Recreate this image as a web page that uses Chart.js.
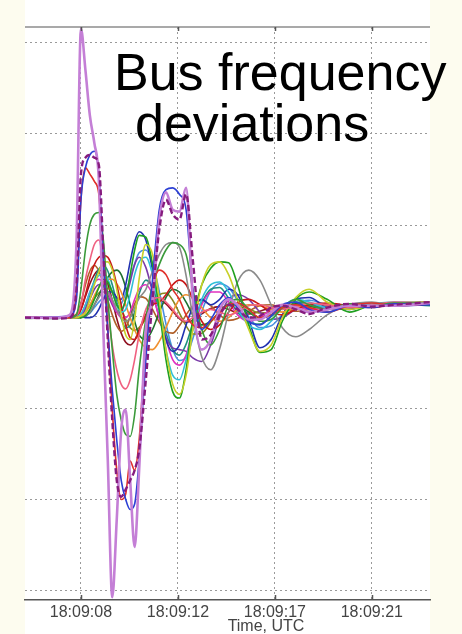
<!DOCTYPE html>
<html>
<head>
<meta charset="utf-8">
<script src="https://cdn.jsdelivr.net/npm/chart.js@4/dist/chart.umd.min.js"></script>
<style>
    html, body { margin: 0; padding: 0; background: #fdfcef; }
    #wrap { position: relative; width: 462px; height: 634px; }
</style>
</head>
<body>
<div id="wrap"><canvas id="freqChart" width="462" height="634"></canvas></div>
<script>
// Time in seconds after 18:09:00 (UTC)
const times = [5.5, 7.0, 7.5, 7.8, 8.0, 8.2, 8.4, 8.6, 8.8, 9.0, 9.2, 9.4, 9.6, 9.8, 10.0, 10.2, 10.4, 10.6, 10.9, 11.2, 11.5,
    11.8, 12.1, 12.4, 12.7, 13.0, 13.4, 13.8, 14.2, 14.6, 15.0, 15.5, 16.0, 16.5, 17.0, 17.6, 18.2, 19.0, 20.0, 21.0, 22.0, 23.6];

const tickTimes = [8, 12.333, 16.667, 21];
const tickLabels = ['18:09:08', '18:09:12', '18:09:17', '18:09:21'];
const yGridValues = [-30, -20, -10, 0, 10, 20, 30];

// Bus frequency deviations (mHz, estimated)
const busViolet = [-0.1, -0.1, 0.2, 8, 31.5, 27, 22, 19, 15, -1.4, -15.7, -30.7, -22.2, -12.4, -10.2, -17.9, -25.2, -16.8, -1.4, 1.9, 10.6,
    13.6, 11.7, 11.5, 14.1, 1.9, -3.6, -2.5, 0.8, 1.9, 1.3, -0.3, -0.3, 0.5, 1.3, 1, 0.5, 0.8, 1.2, 1.2, 1.2, 1.5];
const busPlum = [-0.1, -0.2, -0.1, 3, 15.6, 17.4, 17.7, 17.4, 16.6, 7.3, -2.5, -11.3, -17.9, -19.7, -18.9, -17.9, -16.8, -14.6, -6.9, 1.9, 9.5,
    12.8, 11.2, 10.6, 13.4, 6.2, -2.5, -2, 0.2, 1.3, 0.8, -0.1, 0.1, 1, 1.2, 0.8, 0.3, 1, 1.4, 1.1, 1.3, 1.6];
const busBlue = [-0.1, 0, 0.1, 1.9, 12.8, 16.3, 17.7, 18.1, 15.6, 6.2, -1.4, -8, -13.5, -17.9, -20, -21.1, -20.5, -15.7, -4.7, 4.1, 11.7,
    13.9, 14.1, 13.4, 11.7, 3, -1.4, -0.3, 1.3, 2.1, 1, -0.5, -0.9, 0.1, 1.3, 1.6, 0.8, 0.5, 1.2, 1, 1.4, 1.3];
const busRed = [0, -0.1, -0.1, 3, 12.8, 16.3, 15.6, 14.8, 13.4, 6.2, -1.4, -10.2, -16.8, -20, -19.4, -15.8, -16.8, -13.5, -2.5, 3, 5.1,
    4.6, 3, 1.9, 0.2, -0.9, -1.2, -0.5, 0.5, 1.3, 1.5, 0.8, -0.1, 0.2, 1, 1.3, 1, 0.5, 1.2, 1.5, 1.2, 1.4];
const busGreen = [-0.2, -0.1, -0.1, 0.2, 3, 7.3, 10.1, 11.2, 11.4, 8.4, 1.9, -3.6, -8.5, -11.3, -12.9, -13.1, -10.7, -5.8, -0.3, 3.5, 5.7,
    7.3, 8.1, 7.9, 6.8, 3, -1.4, -3.1, -1.4, 1.3, 1.9, 0.8, -0.5, -0.3, 1, 1.9, 1.3, 0.8, 1.4, 1.2, 1.5, 1.5];
const busPink = [-0.1, 0, -0.1, 0.1, 1.3, 4.1, 6.2, 7.9, 8.4, 5.7, 0.8, -3.1, -5.8, -7.4, -7.9, -6.9, -4.7, -2, 0.8, 1.9, 2.1,
    1.6, 0.8, -0.1, -0.5, -0.1, 0.5, 0.8, 0.5, 0.2, 0.5, 1.2, 1.3, 1, 0.8, 1.1, 1.5, 1.3, 1, 1.3, 1.6, 1.4];
const busYellow = [0, -0.1, -0.1, -0.1, 0.1, 0.5, 1.9, 3.5, 4.9, 6, 6, 5.1, 3, 0.2, -2, -2.5, -0.3, 4.1, 7.9, 6.8, 1.9,
    -3.6, -7.4, -8.5, -6.4, -1.4, 3.5, 5.7, 6, 4.6, 1.9, -1.4, -3.8, -3.1, -0.1, 2.1, 3, 1.6, 0.8, 1.2, 1.5, 1.6];
const busLime = [-0.1, 0, 0, -0.1, -0.1, 0.1, 0.8, 1.9, 3.2, 4.1, 3.8, 2.7, 1.3, 0.8, 1.9, 4.6, 7.3, 8.9, 8.7, 5.7, 0.8,
    -4.7, -8.2, -8.9, -5.8, -0.3, 3.5, 5.3, 6, 5.9, 3.5, -0.9, -3.9, -3.6, -0.5, 1.9, 2.7, 1.9, 0.5, 1.3, 1.5, 1.3];
const busGray = [-0.1, -0.1, 0, 0, 0, 0.1, 0.5, 1.3, 2.1, 2.7, 2.7, 1.9, 0.8, -0.1, -0.5, -0.1, 1, 2, 3, 5, 6.8,
    7.9, 8.1, 7.6, 4.5, 0, -4.4, -5.8, -3.5, 0.5, 3.8, 5.1, 4, 1.3, -1.2, -2.2, -1.4, 0.2, 1.3, 1.6, 1.2, 1.6];
const busCyan = [0, -0.1, -0.1, 0, 0.3, 1.3, 2.7, 3.8, 4.5, 4.6, 4.1, 2.7, 1.3, 0.5, 0.8, 2.4, 4.6, 6, 6.5, 4.6, 0.8,
    -3.6, -6.4, -6.9, -4.7, -1.4, 1.9, 3.5, 3.8, 2.7, 0.8, -0.9, -1.4, -0.5, 1, 1.9, 1.6, 1, 1, 1.4, 1.6, 1.5];
const busCrimson = [-0.1, -0.1, 0, 0.1, 0.8, 2.4, 4.3, 5.7, 6.5, 6.7, 6.5, 5.4, 3.5, 1.3, -0.9, -2.3, -2.5, -1.6, 0.2, 1.3, 1.6,
    2.4, 3.5, 4, 3.5, 1.9, -0.5, -1.4, -0.9, 0.5, 1.6, 1.9, 1.3, 0.5, 0.2, 0.8, 1.3, 1.5, 1.2, 1, 1.4, 1.6];
const busOrange = [-0.1, 0, -0.1, -0.1, 0, 0.4, 1.3, 2.3, 3.2, 3.8, 4.1, 4.1, 3.6, 2.7, 1.3, -0.1, -1.4, -2.5, -3.4, -3.6, -2.7,
    -1.2, 0.5, 1.9, 2.4, 2.1, 1, -0.1, -0.5, -0.1, 0.8, 1.3, 1.2, 0.8, 0.5, 1, 1.4, 1.3, 1, 1.3, 1.5, 1.4];
const busNavy = [-0.1, -0.1, 0, 0, 0, -0.1, -0.1, 0.1, 0.8, 1.9, 2.7, 2.7, 2.1, 1.9, 3.5, 6, 8.2, 9.3, 8.4, 5.1, 0.8,
    -2.5, -3.8, -3.1, -0.9, 1, 1.9, 1.3, 1.9, 3, 2.4, -0.3, -3.4, -2.5, 0.2, 1.9, 2.1, 1, 0.8, 1.3, 1.2, 1.3];
const busMagenta = [0, 0, -0.1, -0.1, 0.2, 1.3, 2.7, 3.7, 4.1, 3.7, 2.7, 1.6, 0.5, -0.1, -0.1, 0.5, 1.9, 3, 3.5, 2.4, -0.1,
    -2.5, -4.7, -5.3, -4.2, -1.4, 1.3, 2.7, 2.7, 1.6, 0.2, -0.5, -0.1, 0.8, 1.3, 1.2, 0.8, 1, 1.4, 1.5, 1.3, 1.5];
const busForest = [-0.1, -0.2, -0.1, -0.1, -0.1, 0.1, 0.5, 1.3, 2.3, 3.4, 4.3, 4.9, 5.1, 4.6, 3.2, 1.3, -0.5, -2, -2.5, -1.4, 0.5,
    2.1, 3, 2.7, 1.6, 0.2, -0.9, -0.5, 0.5, 1.3, 1.3, 0.5, -0.1, 0.2, 1, 1.4, 1.2, 0.8, 1.1, 1.4, 1.2, 1.4];
const busPurple = [-0.1, -0.1, -0.1, 0, 0.1, 0.8, 1.9, 3, 3.5, 3.3, 2.4, 1.3, 0.5, 0.5, 1.9, 3.8, 5.7, 6.5, 5.4, 2.7, -0.1,
    -2.3, -3.4, -3.6, -3.8, -4.5, -4.9, -3.1, -0.1, 1.9, 2.4, 1.9, 0.5, -0.3, -0.1, 0.8, 1.3, 1.3, 1, 1.2, 1.5, 1.6];
const busTeal = [-0.1, 0, 0, 0, 0.2, 1, 2.4, 4, 5.2, 5.6, 5, 3.5, 1.6, -0.2, -1.2, -1, 0.5, 2.5, 4, 3.2, 0.8,
    -1.8, -3.6, -4.2, -3, -0.8, 1.5, 3, 3.2, 2, 0.5, -0.6, -0.8, 0, 1, 1.6, 1.4, 0.9, 1, 1.3, 1.4, 1.2];
const busBrown = [0, -0.1, 0, 0.3, 1.5, 3.5, 5, 5.6, 5, 3.6, 1.8, 0.2, -1, -1.6, -1.2, 0, 1.4, 2.2, 2, 0.8, -0.6,
    -1.6, -1.8, -1, 0.2, 1.2, 1.8, 1.2, 0.2, -0.4, -0.2, 0.6, 1.2, 1.3, 0.9, 0.6, 0.8, 1.2, 1.3, 1.1, 1.3, 1.5];
const busOlive = [-0.1, 0, 0, 0, 0.2, 0.6, 1.2, 2, 2.6, 3, 3.1, 2.8, 2, 0.9, -0.3, -1.2, -1.5, -1.2, -0.2, 1.2, 2.4,
    2.6, 1.8, 0.4, -1, -1.9, -1.8, -0.6, 0.6, 1.4, 1.5, 0.9, 0.4, 0.5, 0.9, 1.2, 1.1, 1, 1.2, 1.4, 1.3, 1.4];
const busSky = [0, 0, -0.1, 0, 0, 0.1, 0.4, 1, 1.6, 2, 2, 1.6, 1.2, 1.4, 2.6, 4.2, 5.8, 7, 7.3, 5.8, 2.8,
    -0.8, -3.6, -4.8, -4.4, -2.4, 0.6, 2.8, 3.6, 3.2, 1.8, 0, -1.2, -1, 0.2, 1.4, 1.8, 1.3, 0.9, 1.1, 1.4, 1.3];
const busMaroon = [-0.1, -0.1, 0, 0.1, 0.8, 2.2, 3.6, 4.6, 5.1, 4.8, 3.6, 1.8, -0.2, -1.8, -2.8, -3.1, -2.6, -1.4, 0.2, 1.4, 1.8,
    1.4, 0.6, -0.2, -0.6, -0.4, 0.3, 0.9, 1.1, 0.8, 0.4, 0.3, 0.6, 1, 1.2, 1.1, 0.9, 1, 1.3, 1.2, 1.4, 1.5];

// first entry is drawn on top
const series = [
    { data: busPlum, color: '#861c7e', width: 2.4, dash: [6, 3] },
    { data: busViolet, color: '#c47fd6', width: 2.6 },
    { data: busBlue, color: '#2b3fd4', width: 1.6 },
    { data: busRed, color: '#e0302a', width: 1.6 },
    { data: busGreen, color: '#3a9a3a', width: 1.6 },
    { data: busPink, color: '#f06080', width: 1.6 },
    { data: busYellow, color: '#c8d028', width: 1.6 },
    { data: busLime, color: '#20a020', width: 1.6 },
    { data: busGray, color: '#8a8a8a', width: 1.6 },
    { data: busCyan, color: '#30c0d8', width: 1.6 },
    { data: busCrimson, color: '#c81818', width: 1.6 },
    { data: busOrange, color: '#f09030', width: 1.6 },
    { data: busNavy, color: '#2030b0', width: 1.6 },
    { data: busMagenta, color: '#e030c0', width: 1.6 },
    { data: busForest, color: '#1f6f2f', width: 1.6 },
    { data: busPurple, color: '#7a3aa8', width: 1.6 },
    { data: busTeal, color: '#209080', width: 1.6 },
    { data: busBrown, color: '#b0602a', width: 1.6 },
    { data: busOlive, color: '#8a8a20', width: 1.6 },
    { data: busSky, color: '#4a90e0', width: 1.6 },
    { data: busMaroon, color: '#901020', width: 1.6 }
];

const FONT = '"Liberation Sans", Arial, sans-serif';

// Background panel, top axis line, inner tick marks and texts
const overlayPlugin = {
    id: 'overlay',
    beforeDraw(chart) {
        const { ctx, chartArea: a } = chart;
        ctx.save();
        ctx.fillStyle = '#fdfcef';
        ctx.fillRect(0, 0, chart.width, chart.height);
        ctx.fillStyle = '#ffffff';
        ctx.fillRect(a.left, 0, a.right - a.left, chart.height);
        ctx.restore();
    },
    afterDraw(chart) {
        const { ctx, chartArea: a } = chart;
        const xs = chart.scales.x;
        ctx.save();
        // top axis
        ctx.strokeStyle = '#8c8c8c';
        ctx.lineWidth = 1.5;
        ctx.beginPath();
        ctx.moveTo(a.left, a.top);
        ctx.lineTo(a.right, a.top);
        ctx.stroke();
        // tick marks
        ctx.strokeStyle = '#555';
        ctx.lineWidth = 1.5;
        tickTimes.forEach(function (t) {
            const px = Math.round(xs.getPixelForValue(t)) + 0.5;
            ctx.beginPath();
            ctx.moveTo(px, a.top);
            ctx.lineTo(px, a.top + 4);
            ctx.moveTo(px, a.bottom);
            ctx.lineTo(px, a.bottom - 5);
            ctx.stroke();
        });
        // chart title
        ctx.fillStyle = '#000';
        ctx.font = '52px ' + FONT;
        ctx.textBaseline = 'alphabetic';
        ctx.textAlign = 'left';
        ctx.fillText('Bus frequency', 114, 90);
        ctx.fillText('deviations', 135, 141);
        // axis title
        ctx.fillStyle = '#444';
        ctx.font = '16px ' + FONT;
        ctx.textAlign = 'center';
        ctx.fillText('Time, UTC', 266, 631);
        ctx.restore();
    }
};

const ctx = document.getElementById('freqChart').getContext('2d');
const freqChart = new Chart(ctx, {
    type: 'line',
    data: {
        labels: times,
        datasets: series.map(function (s) {
            return {
                data: s.data,
                borderColor: s.color,
                borderWidth: s.width,
                borderDash: s.dash || [],
                pointRadius: 0,
                fill: false,
                cubicInterpolationMode: 'monotone'
            };
        })
    },
    options: {
        responsive: false,
        animation: false,
        devicePixelRatio: 1,
        events: [],
        layout: {
            padding: { left: 25, right: 32, top: 27, bottom: 0 }
        },
        plugins: {
            legend: { display: false },
            title: { display: false },
            tooltip: { enabled: false }
        },
        scales: {
            x: {
                type: 'linear',
                min: 5.5,
                max: 23.6,
                afterBuildTicks: function (scale) {
                    scale.ticks = tickTimes.map(function (v) { return { value: v }; });
                },
                afterFit: function (scale) { scale.height = 34; },
                grid: { color: '#9a9a9a', lineWidth: 1, drawTicks: false },
                border: { color: '#555', width: 1.5, dash: [2, 3] },
                ticks: {
                    padding: 3,
                    color: '#444',
                    maxRotation: 0,
                    autoSkip: false,
                    font: { family: FONT, size: 16 },
                    callback: function (v, i) { return tickLabels[i]; }
                }
            },
            y: {
                min: -31.0,
                max: 31.7,
                afterBuildTicks: function (scale) {
                    scale.ticks = yGridValues.map(function (v) { return { value: v }; });
                },
                afterFit: function (scale) { scale.width = 0; },
                ticks: { display: false },
                grid: { color: '#9a9a9a', lineWidth: 1, drawTicks: false },
                border: { display: false, dash: [2, 3] }
            }
        }
    },
    plugins: [overlayPlugin]
});
</script>
</body>
</html>
